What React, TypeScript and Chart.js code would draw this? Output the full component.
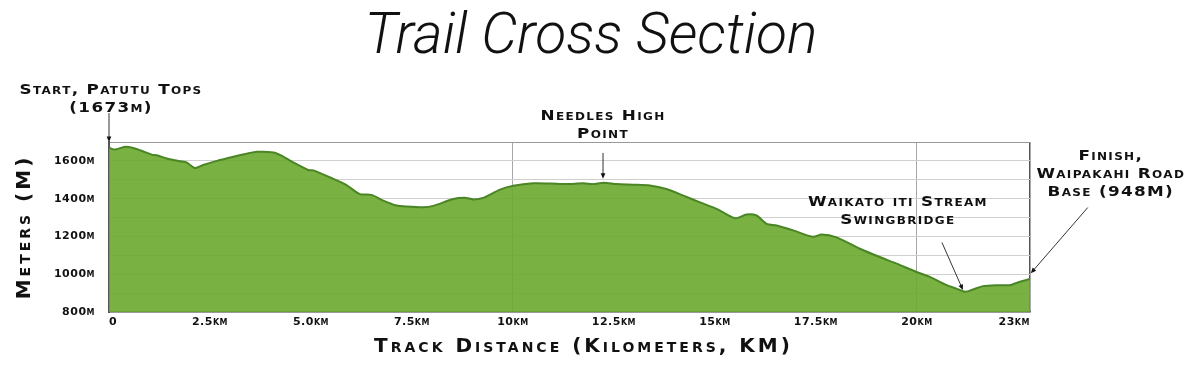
import React, { useEffect, useRef } from 'react';
import { Chart, registerables } from 'chart.js';

Chart.register(...registerables);

// Track distance (km) and elevation (m)
const distanceKm = [
  0.0, 0.15, 0.4, 0.6, 0.85, 1.06, 1.18, 1.43, 1.76, 1.92, 2.13, 2.33, 2.67, 3.08, 3.41, 3.66,
  4.07, 4.27, 4.56, 4.93, 5.06, 5.55, 5.88, 6.21, 6.5, 6.79, 7.12, 7.37, 7.78, 8.03, 8.52, 8.81,
  9.02, 9.26, 9.68, 10.01, 10.5, 10.92, 11.33, 11.74, 11.98, 12.24, 12.57, 12.98, 13.39, 13.8,
  14.22, 14.63, 15.04, 15.5, 15.78, 16.03, 16.28, 16.53, 16.94, 17.43, 17.64, 18.01, 18.59,
  19.08, 19.5, 19.99, 20.32, 20.74, 20.98, 21.19, 21.39, 21.64, 21.97, 22.3, 22.55, 22.8,
];
const elevationM = [
  1670, 1660, 1675, 1668, 1650, 1633, 1630, 1613, 1598, 1592, 1562, 1578, 1600, 1622, 1638, 1648,
  1645, 1628, 1592, 1552, 1550, 1505, 1472, 1424, 1420, 1390, 1364, 1358, 1354, 1362, 1398, 1405,
  1396, 1404, 1448, 1468, 1481, 1480, 1477, 1481, 1477, 1484, 1477, 1474, 1470, 1451,
  1416, 1380, 1346, 1296, 1316, 1311, 1267, 1258, 1232, 1198, 1210, 1195, 1135,
  1091, 1056, 1012, 986, 942, 924, 907, 919, 937, 942, 942, 960, 975,
];

const xTickValues = [0, 2.5, 5, 7.5, 10, 12.5, 15, 17.5, 20, 22.8];
const xTickLabels = ['0', '2.5km', '5.0km', '7.5km', '10km', '12.5km', '15km', '17.5km', '20km', '23km'];
const xMajorGrid = [10, 20];
const yTickLabelValues = [800, 1000, 1200, 1400, 1600];

const titleText = 'Trail Cross Section';
const xTitleText = 'Track Distance (Kilometers, KM)';
const yTitleText = 'Meters (M)';

// Callouts: text anchor and arrow ends in data units (km, m)
const noteLines = [
  ['Start, Patutu Tops', '(1673m)'],
  ['Needles High', 'Point'],
  ['Waikato iti Stream', 'Swingbridge'],
  ['Finish,', 'Waipakahi Road', 'Base (948M)'],
];
const noteTextAt = [
  [0.05, 1974],
  [12.23, 1837],
  [19.53, 1379],
  [24.8, 1626],
];
const noteArrowFrom = [
  [0, 1853],
  [12.23, 1642],
  [20.62, 1168],
  [24.23, 1353],
];
const noteArrowTo = [
  [0, 1700],
  [12.23, 1505],
  [21.14, 916],
  [22.82, 1005],
];

const FONT = '"DejaVu Sans"';

function spaced(s: any, titleSpacing: string, labelSpacing: string, titleShiftX: number) {
  if (s.__spaced) return;
  s.__spaced = true;
  const origTitle = s.drawTitle.bind(s);
  const origLabels = s.drawLabels.bind(s);
  s.drawTitle = (...args: any[]) => {
    s.ctx.save();
    s.ctx.letterSpacing = titleSpacing;
    s.ctx.translate(titleShiftX, 0);
    origTitle(...args);
    s.ctx.restore();
  };
  s.drawLabels = (...args: any[]) => {
    s.ctx.save();
    s.ctx.letterSpacing = labelSpacing;
    origLabels(...args);
    s.ctx.restore();
  };
}

const notesPlugin = {
  id: 'trailNotes',
  afterDraw(chart: any) {
    const { ctx } = chart;
    const x = chart.scales.x;
    const y = chart.scales.y;
    ctx.save();
    // main title
    ctx.font = `italic 300 57px Roboto`;
    ctx.fillStyle = '#111';
    ctx.textAlign = 'center';
    ctx.textBaseline = 'alphabetic';
    ctx.fillText(titleText, 591, 53);

    ctx.textBaseline = 'middle';
    noteLines.forEach((lines, i) => {
      const tx = x.getPixelForValue(noteTextAt[i][0]);
      const ty = y.getPixelForValue(noteTextAt[i][1]);
      lines.forEach((l, j) => {
        ctx.save();
        ctx.font = `small-caps bold 14px ${FONT}`;
        ctx.letterSpacing = '1.1px';
        ctx.fillStyle = '#111';
        ctx.translate(tx, ty + j * 18);
        ctx.scale(1.2, 1);
        ctx.fillText(l, 0, 0);
        ctx.restore();
      });
      const x1 = x.getPixelForValue(noteArrowFrom[i][0]);
      const y1 = y.getPixelForValue(noteArrowFrom[i][1]);
      const x2 = x.getPixelForValue(noteArrowTo[i][0]);
      const y2 = y.getPixelForValue(noteArrowTo[i][1]);
      const ang = Math.atan2(y2 - y1, x2 - x1);
      const head = 6;
      ctx.strokeStyle = '#333';
      ctx.lineWidth = 1;
      ctx.beginPath();
      ctx.moveTo(x1, y1);
      ctx.lineTo(x2 - Math.cos(ang) * head * 0.8, y2 - Math.sin(ang) * head * 0.8);
      ctx.stroke();
      ctx.fillStyle = '#111';
      ctx.beginPath();
      ctx.moveTo(x2, y2);
      ctx.lineTo(x2 - head * Math.cos(ang - 0.4), y2 - head * Math.sin(ang - 0.4));
      ctx.lineTo(x2 - head * Math.cos(ang + 0.4), y2 - head * Math.sin(ang + 0.4));
      ctx.closePath();
      ctx.fill();
    });
    ctx.restore();
  },
};

export default function App() {
  const canvasRef = useRef<HTMLCanvasElement | null>(null);

  useEffect(() => {
    document.body.style.margin = '0';
    const canvas = canvasRef.current;
    if (!canvas) return;
    const chart = new Chart(canvas, {
      type: 'line',
      data: {
        datasets: [
          {
            data: distanceKm.map((d, i) => ({ x: d, y: elevationM[i] })),
            borderColor: '#4a8526',
            borderWidth: 2,
            backgroundColor: 'rgba(106,169,45,0.9)',
            fill: 'start',
            pointRadius: 0,
            tension: 0.25,
          },
        ],
      },
      options: {
        responsive: false,
        animation: false,
        layout: { padding: { left: 0, right: 170, top: 142, bottom: 0 } },
        plugins: {
          legend: { display: false },
          tooltip: { enabled: false },
          title: { display: false },
        },
        scales: {
          x: {
            type: 'linear',
            min: 0,
            max: 22.8,
            afterFit: (s: any) => {
              s.height = 63;
              spaced(s, '3px', '0.5px', 14);
            },
            afterBuildTicks: (s: any) => {
              s.ticks = xTickValues.map((v) => ({ value: v }));
            },
            ticks: {
              autoSkip: false,
              maxRotation: 0,
              align: 'inner',
              padding: 4,
              color: '#111',
              font: { family: FONT, size: 11, weight: 'small-caps bold' as any },
              callback: (_v: any, i: number) => xTickLabels[i],
            },
            grid: {
              drawTicks: false,
              color: (c: any) =>
                xMajorGrid.includes(c.tick?.value)
                  ? '#a8a8a8'
                  : c.tick?.value === 22.8
                  ? '#555'
                  : 'rgba(0,0,0,0)',
              lineWidth: (c: any) => (c.tick?.value === 22.8 ? 1.5 : 1),
            },
            border: { display: true, color: '#666', width: 1.5 },
            title: {
              display: true,
              text: xTitleText,
              color: '#111',
              font: { family: FONT, size: 20, weight: 'small-caps bold' as any, lineHeight: 1.2 },
              padding: { top: 0, bottom: 16 },
            },
          },
          y: {
            min: 800,
            max: 1700,
            afterFit: (s: any) => {
              s.width = 109;
              spaced(s, '3px', '0.5px', 0);
            },
            ticks: {
              stepSize: 100,
              padding: 14,
              color: '#111',
              font: { family: FONT, size: 11, weight: 'small-caps bold' as any },
              callback: (v: any) => (yTickLabelValues.includes(Number(v)) ? `${v}m` : ''),
            },
            grid: {
              drawTicks: false,
              color: (c: any) => (c.tick?.value === 1700 ? '#999' : '#cfcfcf'),
            },
            border: { display: true, color: '#555', width: 2 },
            title: {
              display: true,
              text: yTitleText,
              color: '#111',
              font: { family: FONT, size: 20, weight: 'small-caps bold' as any, lineHeight: 1.2 },
              padding: { top: 13, bottom: 0 },
            },
          },
        },
      },
      plugins: [notesPlugin],
    });
    return () => chart.destroy();
  }, []);

  return (
    <div style={{ position: 'fixed', left: 0, top: 0, width: 1200, height: 375, background: '#fff' }}>
      <canvas ref={canvasRef} width={1200} height={375} />
    </div>
  );
}
